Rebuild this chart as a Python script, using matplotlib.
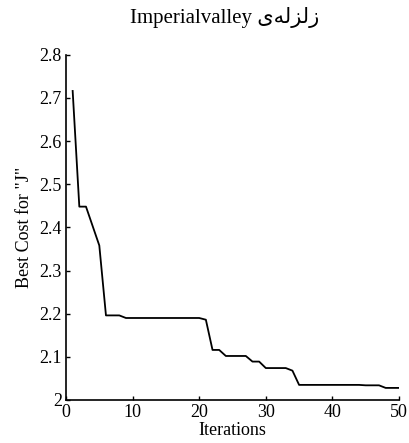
import matplotlib
matplotlib.use('Agg')
import matplotlib.pyplot as plt
from matplotlib.ticker import FormatStrFormatter

# best cost per iteration
iterations = list(range(1, 51))
best_cost = [2.716, 2.448, 2.448, 2.403, 2.358, 2.196, 2.196, 2.196, 2.190, 2.190,
             2.190, 2.190, 2.190, 2.190, 2.190, 2.190, 2.190, 2.190, 2.190, 2.190,
             2.186, 2.116, 2.116, 2.102, 2.102, 2.102, 2.102, 2.089, 2.089, 2.074,
             2.074, 2.074, 2.074, 2.068, 2.035, 2.035, 2.035, 2.035, 2.035, 2.035,
             2.035, 2.035, 2.035, 2.035, 2.034, 2.034, 2.034, 2.028, 2.028, 2.028]

xticks = [0, 10, 20, 30, 40, 50]
yticks = [2.0, 2.1, 2.2, 2.3, 2.4, 2.5, 2.6, 2.7, 2.8]

# persian word written in visual order with presentation forms (no bidi shaping in mpl)
persian = '\uFBFC\uFEEA\uFEDF\uFEB0\uFEDF\uFEAF'
title = 'Imperialvalley ' + persian

plt.rcParams['font.family'] = ['Liberation Serif', 'DejaVu Sans']

fig = plt.figure(figsize=(4.10, 4.43), dpi=100)
ax = fig.add_axes([66/410, 1 - 400/443, (399 - 66)/410, (400 - 54.7)/443])

ax.plot(iterations, best_cost, color='black', lw=1.3)

ax.set_xlim(0, 50)
ax.set_ylim(2.0, 2.8)
ax.set_xticks(xticks)
ax.set_yticks(yticks)
ax.yaxis.set_major_formatter(FormatStrFormatter('%g'))

ax.spines['top'].set_visible(False)
ax.spines['right'].set_visible(False)
for s in ['left', 'bottom']:
    ax.spines[s].set_linewidth(1.2)
ax.tick_params(direction='in', length=3, width=1, labelsize=13, pad=3)

ax.set_xlabel('Iterations', fontsize=13)
ax.set_ylabel('Best Cost for "J"', fontsize=13)
ax.xaxis.set_label_coords(0.5, -0.065)
ax.yaxis.set_label_coords(-0.1, 0.5)

fig.text(225/410, 1 - 17/443, title, fontsize=15, ha='center', va='center')

fig.savefig('out.png', dpi=100)
